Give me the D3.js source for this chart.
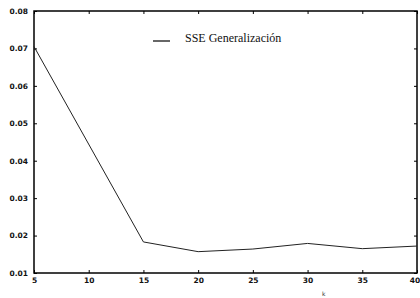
<!DOCTYPE html>
<html><head><meta charset="utf-8">
<script src="https://cdn.jsdelivr.net/npm/d3@7"></script>
<style>body{margin:0;background:#fff}svg{display:block}.leg{font-family:"Liberation Serif","Times New Roman",Times,serif}</style>
</head><body>
<script>
const xValues = [5, 15, 20, 25, 30, 35, 40];
const sseGen = [0.0705, 0.0183, 0.0157, 0.0164, 0.0179, 0.0165, 0.0172];
const xTicks = [5, 10, 15, 20, 25, 30, 35, 40];
const yTicks = [0.01, 0.02, 0.03, 0.04, 0.05, 0.06, 0.07, 0.08];
const seriesName = "SSE Generalización";

const W = 420, H = 298;
const m = {left: 34, right: 3, top: 11, bottom: 25};
const svg = d3.select("body").append("svg").attr("width", W).attr("height", H);
const x = d3.scaleLinear().domain([5, 40]).range([m.left, W - m.right]);
const y = d3.scaleLinear().domain([0.01, 0.08]).range([H - m.bottom, m.top]);

svg.append("rect").attr("x", m.left).attr("y", m.top)
  .attr("width", W - m.right - m.left).attr("height", H - m.bottom - m.top)
  .attr("fill", "none").attr("stroke", "#000").attr("stroke-width", 1.5);

const fontT = "'DejaVu Sans', sans-serif";
const gx = svg.append("g").attr("transform", `translate(0,${H - m.bottom})`)
  .call(d3.axisBottom(x).tickValues(xTicks).tickSize(-3).tickPadding(5).tickFormat(d3.format("d")));
const gxt = svg.append("g").attr("transform", `translate(0,${m.top})`)
  .call(d3.axisTop(x).tickValues(xTicks).tickSize(-3).tickFormat(""));
const gy = svg.append("g").attr("transform", `translate(${m.left},0)`)
  .call(d3.axisLeft(y).tickValues(yTicks).tickSize(-3).tickPadding(6).tickFormat(d3.format(".2f")));
const gyr = svg.append("g").attr("transform", `translate(${W - m.right},0)`)
  .call(d3.axisRight(y).tickValues(yTicks).tickSize(-3).tickFormat(""));
[gx, gxt, gy, gyr].forEach(g => {
  g.select(".domain").remove();
  g.selectAll("line").attr("stroke", "#000");
  g.selectAll("text").attr("font-family", fontT).attr("font-size", 7.5)
    .attr("font-weight", "bold").attr("fill", "#111");
});
gx.selectAll(".tick").filter(d => d === 40).select("text").attr("dx", -2.5);

const line = d3.line().x((d, i) => x(xValues[i])).y(d => y(d));
svg.append("path").datum(sseGen).attr("d", line)
  .attr("fill", "none").attr("stroke", "#222").attr("stroke-width", 1);

svg.append("line").attr("x1", 153).attr("x2", 170).attr("y1", 41).attr("y2", 41)
  .attr("stroke", "#000").attr("stroke-width", 1.2);
svg.append("text").attr("class", "leg").attr("x", 185).attr("y", 42).text(seriesName)
  .attr("font-size", 12).attr("fill", "#111");

svg.append("text").attr("x", 322).attr("y", 296).text("k")
  .attr("font-family", fontT).attr("font-size", 6).attr("fill", "#333");
</script>
</body></html>
